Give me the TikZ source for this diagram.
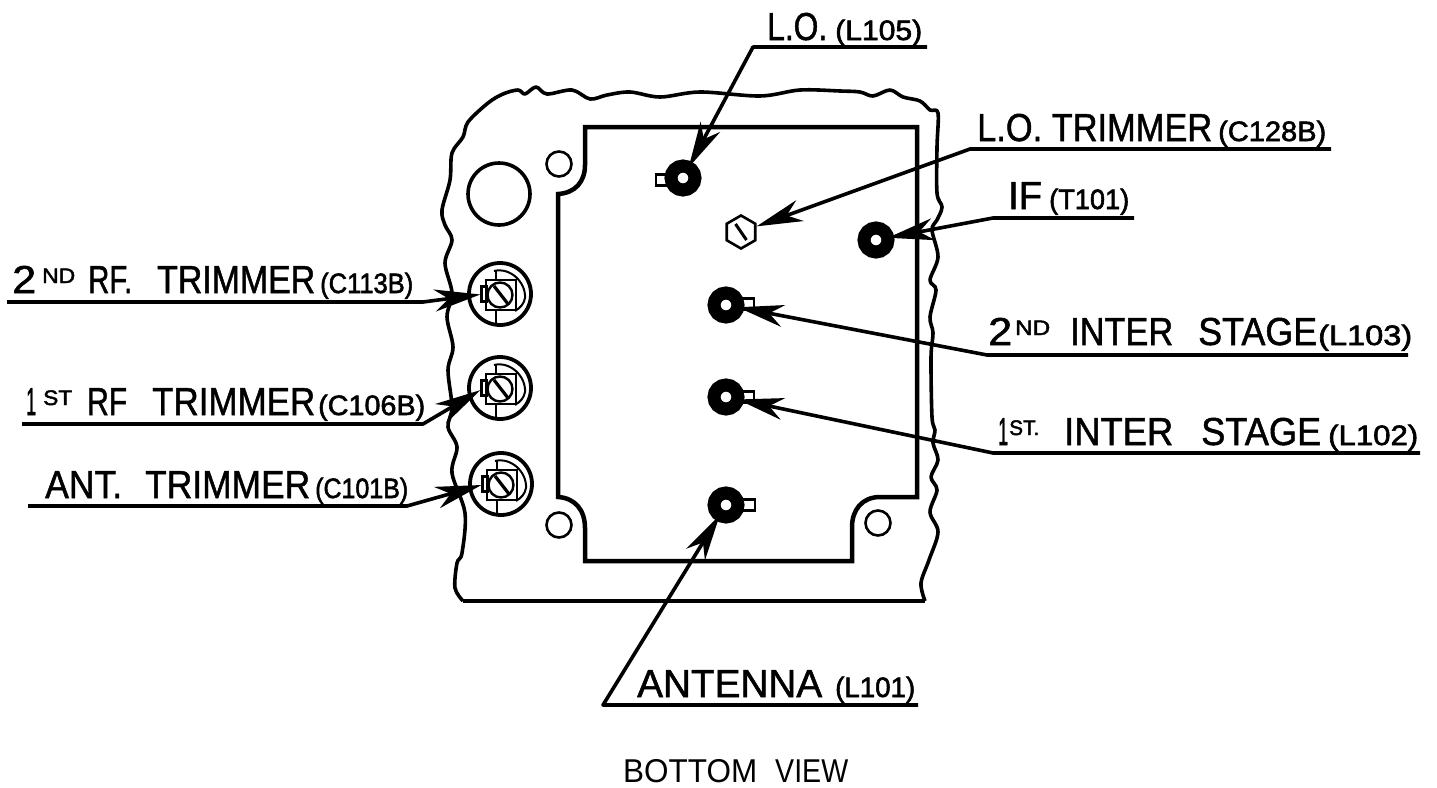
\documentclass[tikz,border=0pt]{standalone}
\usepackage{fontspec}
\setmainfont{Liberation Sans}
\newfontfamily\lblfont[FakeBold=1.3]{Liberation Sans}
\newfontfamily\smfont[FakeBold=2]{Liberation Sans}
\usetikzlibrary{arrows.meta,shapes.geometric}

\newcommand{\bigt}{\fontsize{39}{39}\lblfont\selectfont}
\newcommand{\smt}{\fontsize{28}{28}\smfont\selectfont}
\newcommand{\wm}[2]{\resizebox{#1pt}{\height}{\bigt #2}}
\newcommand{\ws}[2]{\resizebox{#1pt}{\height}{\smt #2}}
\newcommand{\sps}[2]{\raisebox{10pt}{\resizebox{#1pt}{\height}{\fontsize{21}{21}\smfont\selectfont #2}}}
\newcommand{\gp}[1]{\hspace*{#1pt}}

\tikzset{
  lbl/.style={anchor=base west,inner sep=0pt},
  lead/.style={line width=3.6pt,-{Stealth[length=46pt,width=22pt,inset=14pt]},line join=round},
  slug/.style={circle,draw,line width=13pt,fill=white,minimum size=24pt,inner sep=0pt,outer sep=0pt},
  tabbox/.style={draw,line width=2.8pt,fill=white,minimum width=12pt,minimum height=11pt,inner sep=0pt,outer sep=0pt},
  plate/.style={line width=4.5pt,line join=miter},
  hole/.style={circle,draw,line width=2.6pt,minimum size=25pt,inner sep=0pt},
}

\begin{document}
\begin{tikzpicture}[x=1pt,y=-1pt]
  \useasboundingbox (0,0) rectangle (1437,787);

  % housing
  \draw[line width=3.6pt,line join=round] plot[smooth,tension=0.55] coordinates {
    (463,601) (455,588) (457,563) (462,553) (465,513) (452,473) (457,447) (448,427)
    (452,407) (448,370) (453,347) (447,317) (452,293) (445,263) (452,240) (445,225)
    (442,210) (450,180) (452,153) (463,137) (468,122) (488,103) (503,94) (518,90)
    (525,94) (536,87) (547,94) (572,90) (590,99) (607,95) (630,92) (660,97) (700,92)
    (760,96) (800,90) (840,91) (860,92) (873,96) (890,90) (903,97) (920,101) (930,110)
    (938,113) (937,147) (937,193) (942,207) (937,220) (932,230) (938,257) (930,280)
    (936,290) (930,317) (933,333) (931,357) (932,417) (935,430) (933,443) (938,460)
    (931,477) (937,490) (930,512) (938,532) (929,560) (921,583) (925,601)};
  \draw[line width=4pt] (463,601) -- (925,601);

  % plate
  \draw[plate] (585,127) -- (917,127) -- (917,497) -- (880,497)
    .. controls (862,497) and (852,510) .. (852,527) -- (852,561) -- (585,561) -- (585,528)
    .. controls (585,510) and (575,498) .. (558,497) -- (558,194)
    .. controls (575,193) and (585,182) .. (585,165) -- cycle;

  \node[hole] (h1) at (559,164) {};
  \node[hole] (h2) at (559,525) {};
  \node[hole] (h3) at (878,523) {};
  \node[circle,draw,line width=3.6pt,minimum size=62pt,inner sep=0pt] (big) at (499,194) {};

  % slugs
  \node[tabbox] (t1) at (662,180) {};
  \node[tabbox] (t2) at (748,304) {};
  \node[tabbox] (t3) at (748,397) {};
  \node[tabbox] (t4) at (749,505) {};
  \node[slug] (lo) at (683,178) {};
  \node[slug] (ift) at (876,240) {};
  \node[slug] (st2) at (726,305) {};
  \node[slug] (st1) at (726,397) {};
  \node[slug] (ant) at (726,505) {};

  % screw
  \node[regular polygon,regular polygon sides=6,shape border rotate=30,draw,line width=2.6pt,minimum size=33pt,inner sep=0pt] (scr) at (741,232) {};
  \draw[line width=3pt] (scr.center) ++(-5.5,-8) -- ++(11,16);

  % trimmers
  \foreach \n/\cx/\cy in {a/500/294,b/500/388,c/501/484}{
    \begin{scope}[shift={(\cx,\cy)}]
      \node[circle,draw,line width=3.8pt,minimum size=62pt,inner sep=0pt] (tr\n) at (0,0) {};
      \draw[line width=2pt] (-6,-23) .. controls (10,-27) and (26,-12) .. (25,4) .. controls (24,10) and (20,14) .. (15,17);
      \node[draw,line width=2.2pt,minimum size=30pt,inner sep=0pt,fill=white] (sq\n) at (1,1) {};
      \draw[line width=2pt] (-4,-23) -- (-4,-14) (-4,16) -- (-4,31);
      \node[draw,line width=2.2pt,minimum width=5pt,minimum height=15pt,inner sep=0pt,fill=white] (tb\n) at (-16,0) {};
      \node[circle,draw,line width=2.4pt,minimum size=25pt,inner sep=0pt,fill=white] (sc\n) at (0,1) {};
      \draw[line width=3.2pt] (-6,-8) -- (8,10);
    \end{scope}
  }

  % leaders
  \coordinate (e1) at (927,47);   \coordinate (k1) at (753,47);
  \coordinate (e2) at (1331,149); \coordinate (k2) at (970,149);
  \coordinate (e3) at (1134,218); \coordinate (k3) at (993,218);
  \coordinate (e4) at (1408,355); \coordinate (k4) at (987,355);
  \coordinate (e5) at (1420,453); \coordinate (k5) at (993,453);
  \coordinate (e6) at (918,705);  \coordinate (k6) at (603,705);
  \coordinate (e7) at (7,302);    \coordinate (k7) at (423,302);
  \coordinate (e8) at (22,424);   \coordinate (k8) at (423,424);
  \coordinate (e9) at (28,506);   \coordinate (k9) at (407,506);

  \draw[lead] (e1) -- (k1) -- (lo);
  \draw[lead] (e2) -- (k2) -- (scr);
  \draw[lead] (e3) -- (k3) -- (ift);
  \draw[lead] (e4) -- (k4) -- (st2);
  \draw[lead] (e5) -- (k5) -- (st1);
  \draw[lead] (e6) -- (k6) -- (ant);
  \draw[lead] (e7) -- (k7) -- (tba);
  \draw[lead] (e8) -- (k8) -- (tbb);
  \draw[lead] (e9) -- (k9) -- (tbc);

  % labels
  \node[lbl] (l1) at (767,40)   {\wm{60}{L.O.}\gp{8}\ws{87}{(L105)}};
  \node[lbl] (l2) at (977,141)  {\wm{235}{L.O. TRIMMER}\gp{6}\ws{108}{(C128B)}};
  \node[lbl] (l3) at (1008,209) {\wm{34}{IF}\gp{7}\ws{80}{(T101)}};
  \node[lbl] (l4) at (988,345)  {\wm{24}{2}\gp{3}\sps{35}{ND}\gp{20}\wm{103}{INTER}\gp{25}\wm{119}{STAGE}\gp{1}\ws{94}{(L103)}};
  \node[lbl] (l5) at (998,445)  {\wm{10}{1}\gp{1}\sps{30}{ST.}\gp{25}\wm{109}{INTER}\gp{28}\wm{120}{STAGE}\gp{7}\ws{90}{(L102)}};
  \node[lbl] (l6) at (637,697)  {\wm{185}{ANTENNA}\gp{13}\ws{80}{(L101)}};
  \node[lbl] (l7) at (12,293)   {\wm{24}{2}\gp{6}\sps{33}{ND}\gp{13}\wm{44}{RF.}\gp{25}\wm{158}{TRIMMER}\gp{5}\ws{93}{(C113B)}};
  \node[lbl] (l8) at (26,415)   {\wm{10}{1}\gp{7}\sps{29}{ST}\gp{15}\wm{40}{RF}\gp{25}\wm{163}{TRIMMER}\gp{3}\ws{107}{(C106B)}};
  \node[lbl] (l9) at (45,498)   {\wm{77}{ANT.}\gp{23}\wm{165}{TRIMMER}\gp{5}\ws{93}{(C101B)}};
  \node[lbl,font=\fontsize{33}{33}\selectfont] (title) at (623,782) {\resizebox{134pt}{\height}{BOTTOM}\gp{18}\resizebox{73pt}{\height}{VIEW}};
\end{tikzpicture}
\end{document}
